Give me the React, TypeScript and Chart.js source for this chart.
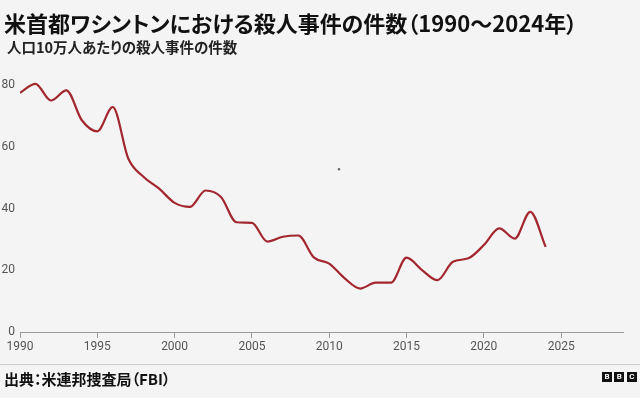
import React, { useEffect, useRef } from "react";
import { Chart, registerables } from "chart.js";

Chart.register(...registerables);

const years = [
  1990, 1991, 1992, 1993, 1994, 1995, 1996, 1997, 1998, 1999,
  2000, 2001, 2002, 2003, 2004, 2005, 2006, 2007, 2008, 2009,
  2010, 2011, 2012, 2013, 2014, 2015, 2016, 2017, 2018, 2019,
  2020, 2021, 2022, 2023, 2024,
];
const rates = [
  77.6, 80.5, 75.1, 78.4, 68.7, 65.1, 73.0, 56.3, 50.3, 46.5,
  41.9, 40.6, 45.9, 43.8, 35.6, 35.4, 29.3, 30.9, 31.3, 24.2,
  22.2, 17.4, 14.1, 16.0, 16.0, 24.1, 20.1, 16.8, 22.8, 23.9,
  28.2, 33.6, 30.3, 39.0, 27.6,
];
const xTicks = [1990, 1995, 2000, 2005, 2010, 2015, 2020, 2025];
const yTicks = [0, 20, 40, 60, 80];
const strayX = [2010.63];
const strayY = [52.8];

const title = "米首都ワシントンにおける殺人事件の件数（1990～2024年）";
const subtitle = "人口10万人あたりの殺人事件の件数";
const source = "出典：米連邦捜査局（FBI）";
const logoLetters = ["B", "B", "C"];

const CJK = '"Noto Sans CJK JP", "Noto Sans", sans-serif';

export default function App() {
  const ref = useRef<HTMLCanvasElement | null>(null);

  useEffect(() => {
    if (!ref.current) return;
    const chart = new Chart(ref.current, {
      type: "line",
      data: {
        datasets: [
          {
            data: years.map((y, i) => ({ x: y, y: rates[i] })),
            borderColor: "#a3272f",
            borderWidth: 2.2,
            pointRadius: 0,
            cubicInterpolationMode: "monotone",
            fill: false,
          },
          {
            type: "scatter",
            data: strayX.map((x, i) => ({ x, y: strayY[i] })),
            pointRadius: 1.2,
            pointBorderWidth: 0,
            backgroundColor: "#666",
            borderColor: "#666",
          } as any,
        ],
      },
      options: {
        animation: false,
        responsive: false,
        maintainAspectRatio: false,
        layout: { padding: { top: 70, right: 17, bottom: 36, left: 0 } },
        plugins: { legend: { display: false }, tooltip: { enabled: false } },
        scales: {
          x: {
            type: "linear",
            min: 1990,
            max: 2029,
            afterBuildTicks: (s: any) => {
              s.ticks = xTicks.map((v) => ({ value: v }));
            },
            afterFit: (s: any) => {
              s.height = 30;
            },
            grid: {
              display: true,
              drawOnChartArea: false,
              drawTicks: true,
              tickLength: 6,
              color: "#9a9a9a",
            },
            border: { display: true, color: "#9a9a9a", width: 1 },
            ticks: {
              padding: 2,
              color: "#555",
              maxRotation: 0,
              autoSkip: false,
              font: { family: "Roboto", size: 12 },
              callback: (v: any) => String(v),
            },
          },
          y: {
            type: "linear",
            min: 0,
            max: 85,
            afterBuildTicks: (s: any) => {
              s.ticks = yTicks.map((v) => ({ value: v }));
            },
            afterFit: (s: any) => {
              s.width = 20;
            },
            grid: { display: false, drawTicks: false },
            border: { display: false },
            ticks: {
              padding: 5,
              color: "#555",
              font: { family: "Roboto", size: 12 },
              callback: (v: any) => String(v),
            },
          },
        },
      },
    });
    return () => chart.destroy();
  }, []);

  return (
    <div
      style={{
        position: "fixed",
        left: 0,
        top: 0,
        width: 640,
        height: 398,
        background: "#f4f4f4",
        overflow: "hidden",
      }}
    >
      <canvas
        ref={ref}
        width={640}
        height={398}
        style={{ position: "absolute", left: 0, top: 0, width: 640, height: 398 }}
      />
      <div
        style={{
          position: "absolute",
          left: 4,
          top: 7,
          fontFamily: CJK,
          fontWeight: 700,
          fontSize: 22,
          lineHeight: "30px",
          color: "#111",
          whiteSpace: "nowrap",
          fontFeatureSettings: '"palt"',
        }}
      >
        {title}
      </div>
      <div
        style={{
          position: "absolute",
          left: 7,
          top: 37,
          fontFamily: CJK,
          fontWeight: 700,
          fontSize: 14.5,
          lineHeight: "20px",
          color: "#222",
          whiteSpace: "nowrap",
          fontFeatureSettings: '"palt"',
        }}
      >
        {subtitle}
      </div>
      <div
        style={{
          position: "absolute",
          left: 0,
          top: 364,
          width: 640,
          height: 1,
          background: "#cfcfcf",
        }}
      />
      <div
        style={{
          position: "absolute",
          left: 4,
          top: 369,
          fontFamily: CJK,
          fontWeight: 700,
          fontSize: 15,
          lineHeight: "20px",
          color: "#111",
          whiteSpace: "nowrap",
          fontFeatureSettings: '"palt"',
        }}
      >
        {source}
      </div>
      {logoLetters.map((l, i) => (
        <div
          key={i}
          style={{
            position: "absolute",
            left: 602 + i * 12.4,
            top: 372,
            width: 10,
            height: 10,
            background: "#111",
            color: "#fff",
            fontFamily: "Roboto, sans-serif",
            fontWeight: 700,
            fontSize: 8,
            lineHeight: "10px",
            textAlign: "center",
          }}
        >
          {l}
        </div>
      ))}
    </div>
  );
}
